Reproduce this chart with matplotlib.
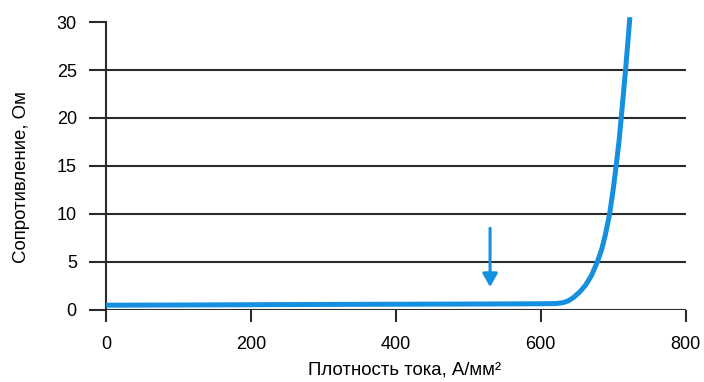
import matplotlib.pyplot as plt
import numpy as np

# current density, A/mm2  vs  resistance, Ohm
density = [0, 100, 200, 300, 400, 500, 600, 620, 630, 638, 646, 654, 662, 670, 678, 684, 689, 695, 700, 704, 708, 711, 717, 723]
resistance = [0.5, 0.52, 0.55, 0.58, 0.6, 0.62, 0.65, 0.67, 0.75, 0.95, 1.35, 1.9, 2.6, 3.6, 5.0, 6.3, 7.8, 10, 12.6, 15, 17.6, 20, 25, 30.5]

x_ticks = [0, 200, 400, 600, 800]
y_ticks = [0, 5, 10, 15, 20, 25, 30]

plt.rcParams['font.family'] = ['Liberation Sans', 'DejaVu Sans']

ink = '#2b2b2b'
blue = '#1590e0'

fig = plt.figure(figsize=(7.04, 3.82), dpi=100)
ax = fig.add_axes([0.1506, 0.1885, 0.8234, 0.7539])

for v in y_ticks[:-1]:
	ax.axhline(v, color=ink, lw=1.5, zorder=1)

ax.plot(density, resistance, color=blue, lw=3.6, clip_on=False, zorder=3,
	solid_capstyle='butt', solid_joinstyle='round')

# arrow marking the point of interest
ax.annotate('', xy=(530, 2.1), xytext=(530, 8.8),
	arrowprops=dict(arrowstyle='-|>,head_length=0.8,head_width=0.45', color=blue, lw=2.2))

ax.set_xlim(0, 800)
ax.set_ylim(0, 30)
ax.set_xticks(x_ticks)
ax.set_yticks(y_ticks)

for s in ['top', 'right', 'bottom']:
	ax.spines[s].set_visible(False)
ax.spines['left'].set_color(ink)
ax.spines['left'].set_linewidth(1.5)

ax.tick_params(axis='y', direction='out', length=12, width=1.5, color=ink, labelsize=13, pad=9)
ax.tick_params(axis='x', direction='out', length=8.6, width=1.5, color=ink, labelsize=13, pad=10)

# axis titles
fig.text(405 / 704, 1 - 370 / 382, 'Плотность тока, А/мм²', fontsize=13.4, ha='center', va='center')
fig.text(22 / 704, 1 - 177 / 382, 'Сопротивление, Ом', fontsize=13.4, ha='center', va='center', rotation=90)

fig.savefig('out.png', dpi=100)
